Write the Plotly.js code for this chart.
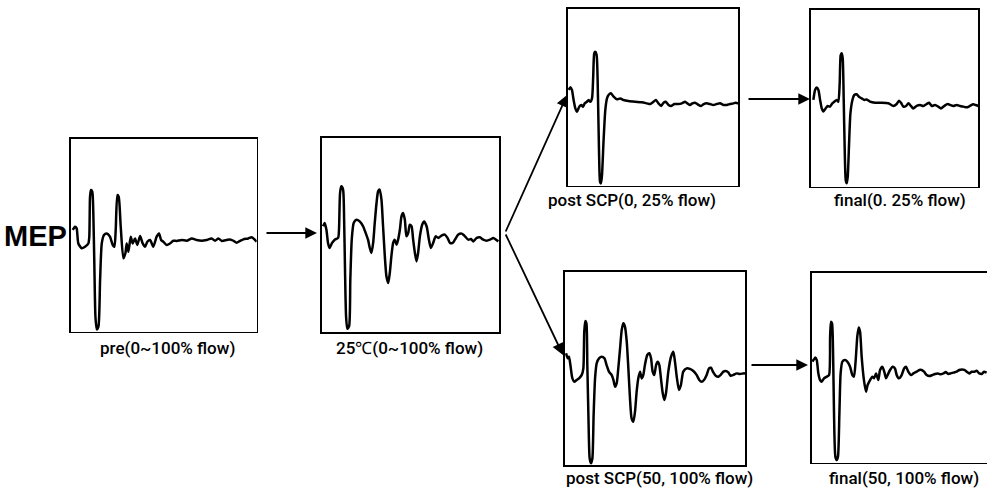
<!DOCTYPE html>
<html>
<head>
<meta charset="utf-8">
<script src="https://cdn.plot.ly/plotly-3.0.1.min.js"></script>
<style>html,body{margin:0;padding:0;background:#fff;}#chart{width:987px;height:488px;}</style>
</head>
<body>
<div id="chart"></div>
<script>
// Panel labels
const panelLabels = ["pre(0~100% flow)", "25\u2103(0~100% flow)", "post SCP(0, 25% flow)", "final(0. 25% flow)", "post SCP(50, 100% flow)", "final(50, 100% flow)"];
const sideLabel = "MEP";

// Waveforms: time (% of sweep) and amplitude (% of panel height)
const preT = [1.1,2.3,3.2,4.1,5.9,7.7,9.5,10.0,10.4,10.9,11.6,12.2,12.7,13.3,14.0,14.9,15.8,16.7,17.9,19.4,21.1,22.6,23.5,24.2,25.1,25.8,26.9,28.3,29.4,30.1,31.0,32.3,33.3,34.6,35.8,37.3,38.7,40.0,41.2,42.7,44.4,46.2,47.5,48.6,49.8,51.6,53.4,55.2,57.0,59.7,62.4,65.1,67.7,70.4,73.1,75.8,77.6,79.4,81.2,83.9,85.7,87.5,89.2,91.0,92.8,95.5,97.3,99.1,100];
const preV = [52.8,54.5,53.6,45.8,43.3,44.1,45.8,49.3,70.1,73.5,72.7,59.7,35.5,7.8,1.2,2.6,26.8,45.8,50.2,51.0,49.3,45.0,44.1,52.8,70.9,70.1,54.5,38.1,40.7,45.8,41.5,49.3,45.8,48.4,45.0,49.7,45.8,44.1,46.7,47.6,44.1,49.3,51.0,47.6,46.7,45.0,45.8,47.2,47.1,47.6,47.2,48.4,47.6,47.2,47.6,48.4,47.2,48.4,47.1,47.6,47.9,47.2,46.2,47.1,47.9,48.4,49.0,47.6,46.7];

const c25T = [0.6,1.5,2.5,3.4,4.3,5.7,7.2,9.1,9.6,10.2,10.9,11.9,12.5,13.0,13.6,14.3,15.3,16.0,16.8,17.9,19.4,21.3,23.2,24.7,26.0,27.0,27.9,28.9,29.8,30.8,31.7,32.6,33.6,34.5,35.5,36.4,37.4,38.3,39.2,40.2,41.1,42.1,43.0,44.0,44.9,45.8,46.8,47.7,48.7,49.6,50.6,51.5,52.5,53.4,54.3,55.3,56.6,57.7,59.1,60.4,61.5,62.8,64.2,65.7,67.5,69.4,70.9,72.3,73.8,75.1,77.0,78.9,80.4,82.6,84.2,85.5,87.4,89.2,91.1,93.0,94.9,96.8,98.3,99.6];
const c25V = [54.5,56.2,52.7,45.9,43.3,45.9,47.6,48.5,52.7,71.6,75.1,73.4,57.9,32.1,8.1,1.7,2.9,27.0,47.6,56.2,57.9,57.0,54.5,51.0,47.6,43.3,40.7,45.9,56.2,66.5,72.5,73.4,68.2,54.5,39.0,28.7,25.3,30.4,39.0,45.9,47.6,45.0,47.6,52.7,59.6,61.3,57.9,49.3,51.0,55.3,54.5,47.6,40.7,36.4,40.7,49.3,55.3,57.0,54.5,47.6,43.3,45.9,49.3,48.5,49.7,50.2,48.5,45.9,45.9,47.6,50.2,50.7,49.7,47.6,47.9,46.7,48.5,48.8,47.6,47.1,47.6,48.5,47.6,46.7];

const scp25T = [0.4,1.4,2.3,3.3,4.3,5.3,6.6,7.8,8.8,9.8,11.1,12.1,13.1,14.1,14.8,15.4,16.0,16.8,17.6,18.2,18.8,19.3,19.9,20.9,21.9,22.9,23.8,25.2,26.8,28.7,30.7,32.6,35.5,39.5,43.4,46.3,48.2,50.2,51.6,53.1,54.7,56.1,57.4,59.0,60.5,62.5,64.8,66.8,68.8,70.1,71.7,73.0,74.6,76.6,78.1,79.7,81.4,83.4,85.4,87.3,89.3,91.2,93.2,95.1,97.1,98.4,100];
const scp25V = [54.2,55.7,54.2,48.5,43.8,41.9,44.7,45.7,44.7,46.6,47.5,48.5,47.5,49.4,61.7,74.9,75.8,74.0,50.4,20.2,2.3,1.3,5.1,25.8,42.8,49.4,51.3,52.3,50.4,48.9,49.4,48.5,47.9,47.5,47.2,46.6,46.2,47.5,48.5,46.6,45.1,47.0,47.5,45.7,45.1,46.2,46.2,46.6,47.5,46.6,45.7,46.6,47.0,45.7,45.1,46.2,46.6,46.2,45.7,46.2,46.6,45.7,45.7,46.2,46.6,47.0,46.6];

const fin25T = [1.6,2.6,3.6,4.6,5.6,6.6,7.6,8.9,10.1,11.5,12.9,14.1,15.5,16.5,17.3,17.9,18.5,19.1,19.7,20.3,20.9,21.5,22.1,22.9,23.7,24.9,26.0,27.4,28.8,30.4,32.0,33.4,35.4,38.4,42.3,46.3,49.3,51.3,52.7,53.9,55.3,56.9,58.3,59.8,61.2,63.2,65.2,67.2,69.2,70.6,72.2,74.2,76.1,77.7,79.7,81.7,83.3,85.1,87.1,89.1,91.1,93.0,95.0,97.0,98.4,100];
const fin25V = [49.1,54.7,56.2,54.7,49.1,44.3,42.5,44.3,45.7,45.3,47.2,48.1,49.1,48.1,58.5,74.5,75.5,72.6,49.1,20.8,3.8,1.9,5.7,24.5,41.5,49.1,51.9,52.3,50.9,50.0,49.1,49.4,48.1,47.5,47.5,47.2,45.7,46.8,48.7,47.5,45.3,45.7,47.2,45.7,44.3,45.7,46.2,45.7,46.8,47.5,45.7,46.2,45.3,44.3,45.7,46.8,46.2,45.7,46.2,45.7,45.3,44.9,45.7,46.6,46.2,45.7];

const scp100T = [0.6,1.5,2.2,3.0,4.1,5.2,6.5,7.8,9.3,10.2,10.7,11.3,11.9,12.4,13.0,13.7,14.4,15.2,15.9,16.7,17.6,18.9,20.4,21.9,23.1,24.4,25.9,26.9,27.8,28.7,29.6,30.6,31.5,32.4,33.3,34.3,35.2,36.1,37.0,38.0,38.9,39.8,40.7,41.7,42.6,43.5,44.4,45.7,46.9,47.8,48.7,49.6,50.6,51.5,52.4,53.3,54.3,55.2,56.1,57.4,58.9,60.2,61.1,62.2,63.3,64.4,65.7,67.6,69.4,71.3,73.1,74.6,75.9,77.2,78.7,80.0,81.1,82.4,83.9,85.2,86.5,88.0,89.3,90.7,92.0,93.5,95.4,97.2,99.1,100];
const scp100V = [57.8,55.2,56.0,51.7,44.8,43.1,44.0,44.8,46.6,50.0,69.0,74.5,73.3,51.7,25.9,3.4,0.9,3.4,25.9,44.8,52.6,55.2,56.0,55.2,51.7,48.3,46.6,44.0,40.5,42.2,50.0,60.3,69.8,73.3,71.6,63.8,50.0,34.5,24.1,22.4,27.6,37.9,44.8,48.3,44.8,46.6,51.7,56.9,57.8,55.2,48.3,46.6,51.7,53.4,51.7,44.8,37.1,33.6,37.1,48.3,56.0,58.6,53.4,44.8,38.8,41.4,48.3,50.0,49.7,48.6,46.6,44.0,43.1,44.0,46.6,50.0,50.3,47.9,46.0,45.7,46.6,48.3,48.6,47.9,46.2,46.6,47.4,47.1,47.4,47.4];

const fin100T = [0.4,1.3,2.1,2.9,3.8,4.8,5.7,7.0,8.6,9.9,10.5,11.0,11.6,12.2,12.7,13.5,14.3,15.0,15.8,16.5,17.5,19.0,20.3,21.9,23.2,24.1,25.1,26.0,26.8,27.6,28.5,29.8,31.0,31.9,33.3,34.6,35.6,36.7,38.0,39.0,40.3,41.4,42.4,43.3,44.7,46.2,47.5,48.5,49.8,51.3,52.7,53.8,55.1,56.7,58.0,59.9,61.4,62.7,64.1,65.6,67.1,68.8,70.3,71.9,73.6,75.1,76.4,77.9,79.3,80.8,82.7,84.2,85.7,87.1,88.4,89.9,91.3,92.8,94.1,95.6,97.0,98.3,99.8];
const fin100V = [53.2,54.4,55.4,54.0,47.0,43.5,42.6,44.4,45.3,46.1,66.3,74.2,73.3,57.5,27.7,3.2,1.4,3.2,26.0,47.0,53.2,54.0,53.2,50.5,46.1,45.3,54.0,66.3,71.2,68.9,55.8,43.5,37.4,40.9,43.5,45.3,44.4,47.0,43.5,48.8,50.5,47.9,44.4,46.1,48.8,50.5,49.6,46.1,44.4,46.1,49.6,50.5,47.9,46.1,47.0,47.9,48.8,48.8,47.9,46.1,45.6,46.1,46.7,47.0,46.5,47.0,47.7,46.7,47.0,47.4,47.9,48.8,49.1,48.8,47.9,47.0,47.9,47.9,48.4,47.0,46.7,47.9,47.4];

const W = 987, H = 488;
// panel boxes in pixels: [left, top, right, bottom]
const boxes = [
  [70.7, 139, 256.7, 331.7],
  [322, 138, 499, 332],
  [568, 9, 738.3, 185.7],
  [810.7, 10, 978.3, 186.7],
  [565, 271.7, 745, 465],
  [811.7, 272.7, 987, 462.7]
];
const series = [[preT, preV],[c25T, c25V],[scp25T, scp25V],[fin25T, fin25V],[scp100T, scp100V],[fin100T, fin100V]];

const traces = [];
const layout = {
  width: W, height: H,
  margin: {l:0, r:0, t:0, b:0},
  paper_bgcolor: '#fff', plot_bgcolor: 'rgba(0,0,0,0)',
  showlegend: false,
  annotations: [],
  font: {family: 'Roboto, Liberation Sans, Arial, sans-serif', color: '#000'}
};

series.forEach((s, i) => {
  const n = i === 0 ? '' : String(i + 1);
  traces.push({
    x: s[0], y: s[1], xaxis: 'x' + n, yaxis: 'y' + n,
    type: 'scatter', mode: 'lines',
    line: {color: '#000', width: 2.5, shape: 'spline', smoothing: 0.6},
    hoverinfo: 'skip'
  });
  const b = boxes[i];
  const common = {showgrid: false, zeroline: false, showticklabels: false, ticks: '',
    showline: true, linecolor: '#000', linewidth: 1.6, fixedrange: true};
  layout['xaxis' + n] = Object.assign({}, common, {
    domain: [b[0] / W, b[2] / W], range: [0, 100], anchor: 'y' + n, mirror: true
  });
  layout['yaxis' + n] = Object.assign({}, common, {
    domain: [1 - b[3] / H, 1 - b[1] / H], range: [0, 100], anchor: 'x' + n, mirror: i !== 5
  });
});

// labels under panels
const labelPos = [[167, 348], [409, 348], [632, 200], [900, 200], [659, 478], [904, 478]];
panelLabels.forEach((t, i) => {
  layout.annotations.push({
    text: t, x: labelPos[i][0] / W, y: 1 - labelPos[i][1] / H, xref: 'paper', yref: 'paper',
    showarrow: false, xanchor: 'center', yanchor: 'middle',
    font: {size: 17, color: '#000', weight: 500, family: 'Roboto, Liberation Sans, Arial, sans-serif'}
  });
});
layout.annotations.push({
  text: '<b>' + sideLabel + '</b>', x: 35 / W, y: 1 - 236 / H, xref: 'paper', yref: 'paper',
  showarrow: false, xanchor: 'center', yanchor: 'middle',
  font: {size: 29, color: '#000', family: 'Liberation Sans Narrow, Arial Narrow, Liberation Sans, Arial, sans-serif'}
});

// arrows: [tailX, tailY, headX, headY]
const arrows = [[265, 233, 317, 233], [505, 233, 567, 95], [505, 233, 563, 355], [747, 99, 810, 99], [750, 365, 808, 365]];
arrows.forEach(a => {
  layout.annotations.push({
    text: '', x: a[2] / W, y: 1 - a[3] / H, xref: 'paper', yref: 'paper',
    ax: a[0] - a[2], ay: a[1] - a[3], axref: 'pixel', ayref: 'pixel',
    showarrow: true, arrowhead: 2, arrowsize: 1.3, arrowwidth: 1.8, arrowcolor: '#000', standoff: 0
  });
});

Plotly.newPlot('chart', traces, layout, {displayModeBar: false, staticPlot: true});
</script>
</body>
</html>
